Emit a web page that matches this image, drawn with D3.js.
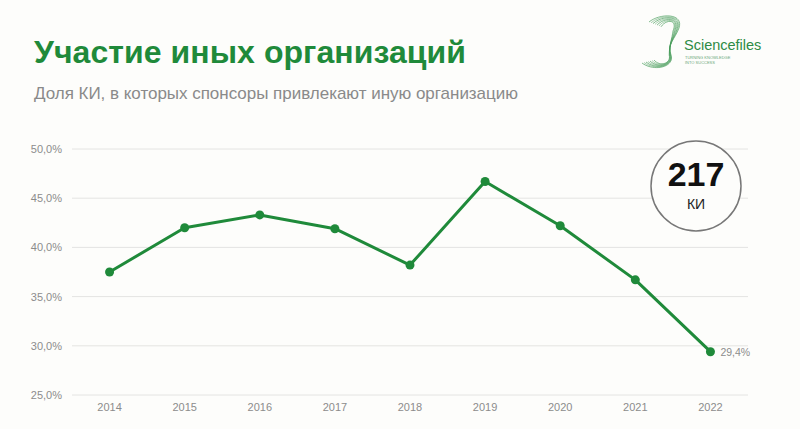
<!DOCTYPE html>
<html><head><meta charset="utf-8">
<script src="https://cdn.jsdelivr.net/npm/d3@7"></script>
<style>body{margin:0;background:#fdfdfb;}svg{display:block;}</style>
</head><body>
<script>
const years = ["2014","2015","2016","2017","2018","2019","2020","2021","2022"];
const shares = [37.5, 42.0, 43.3, 41.9, 38.2, 46.7, 42.2, 36.7, 29.4];
const yTicks = [25, 30, 35, 40, 45, 50];
const titleText = "Участие иных организаций";
const subtitleText = "Доля КИ, в которых спонсоры привлекают иную организацию";
const badgeNumber = "217";
const badgeLabel = "КИ";

const W = 800, H = 429;
const green = "#1f8a3a";
const font = "Liberation Sans, Arial, sans-serif";
const svg = d3.select("body").append("svg").attr("width", W).attr("height", H);
svg.append("rect").attr("width", W).attr("height", H).attr("fill", "#fdfdfb");

svg.append("text").attr("x", 34).attr("y", 63).text(titleText)
  .attr("font-family", font).attr("font-weight", "bold")
  .attr("font-size", 32).attr("textLength", 432).attr("fill", green);
svg.append("text").attr("x", 34).attr("y", 99).text(subtitleText)
  .attr("font-family", font).attr("textLength", 484)
  .attr("font-size", 17).attr("fill", "#8a8a8a");

// logo
const logo = svg.append("g");
for (let k = 0; k < 7; k++) {
  logo.append("path")
    .attr("d", `M${649 + k * 2},${22 + k * 0.8} C${660 + k},${13 + k} ${684 - k},${13 + k} ${679 - k},${28 + k * 0.5} C${675 - k * 0.5},${39} ${667 + k * 0.4},${44} ${671 - k * 0.3},${55} C${675 - k * 0.6},${67 - k * 0.6} ${654 + k},${72 - k * 0.8} ${642 + k * 2},${63 - k * 0.5}`)
    .attr("fill", "none").attr("stroke", k % 2 ? "#6db07b" : "#2f8f45").attr("stroke-width", 0.7).attr("opacity", 0.85);
}
logo.append("text").attr("x", 684).attr("y", 50).text("Sciencefiles")
  .attr("font-family", font).attr("font-size", 14.5).attr("fill", "#2e8b45");
logo.append("text").attr("x", 685).attr("y", 59).text("TURNING KNOWLEDGE")
  .attr("font-family", font).attr("font-size", 4).attr("fill", "#6aa87a");
logo.append("text").attr("x", 685).attr("y", 64).text("INTO SUCCESS")
  .attr("font-family", font).attr("font-size", 4).attr("fill", "#6aa87a");

const x = d3.scalePoint().domain(years).range([72, 748]).padding(0.5);
const y = d3.scaleLinear().domain([25, 50]).range([395, 149]);

svg.append("g").selectAll("line").data(yTicks).join("line")
  .attr("x1", 72).attr("x2", 748).attr("y1", d => y(d)).attr("y2", d => y(d))
  .attr("stroke", "#e4e4e2").attr("stroke-width", 1);

const fmt = d => d.toFixed(1).replace(".", ",") + "%";
svg.append("g").selectAll("text").data(yTicks).join("text")
  .attr("x", 62).attr("y", d => y(d) + 4).attr("text-anchor", "end").text(fmt)
  .attr("font-family", font).attr("font-size", 11).attr("fill", "#8c8c8c");

svg.append("g").selectAll("text").data(years).join("text")
  .attr("x", d => x(d)).attr("y", 411).attr("text-anchor", "middle").text(d => d)
  .attr("font-family", font).attr("font-size", 11).attr("fill", "#8c8c8c");

const pts = years.map((yr, i) => ({ yr, v: shares[i] }));
svg.append("path").datum(pts)
  .attr("d", d3.line().x(d => x(d.yr)).y(d => y(d.v)))
  .attr("fill", "none").attr("stroke", green).attr("stroke-width", 3).attr("stroke-linejoin", "round");
svg.append("g").selectAll("circle").data(pts).join("circle")
  .attr("cx", d => x(d.yr)).attr("cy", d => y(d.v)).attr("r", 4.5).attr("fill", green);

const last = pts[pts.length - 1];
svg.append("text").attr("x", x(last.yr) + 10).attr("y", y(last.v) + 4).text(fmt(last.v))
  .attr("font-family", font).attr("font-size", 10.5).attr("fill", "#8c8c8c");

// badge
svg.append("circle").attr("cx", 696).attr("cy", 186).attr("r", 45)
  .attr("fill", "#fdfdfb").attr("stroke", "#777").attr("stroke-width", 1.5);
svg.append("text").attr("x", 696).attr("y", 186).attr("text-anchor", "middle").text(badgeNumber)
  .attr("font-family", font).attr("font-weight", "bold")
  .attr("font-size", 34).attr("fill", "#111");
svg.append("text").attr("x", 696).attr("y", 209).attr("text-anchor", "middle").text(badgeLabel)
  .attr("font-family", font)
  .attr("font-size", 14).attr("fill", "#222");
</script>
</body></html>
